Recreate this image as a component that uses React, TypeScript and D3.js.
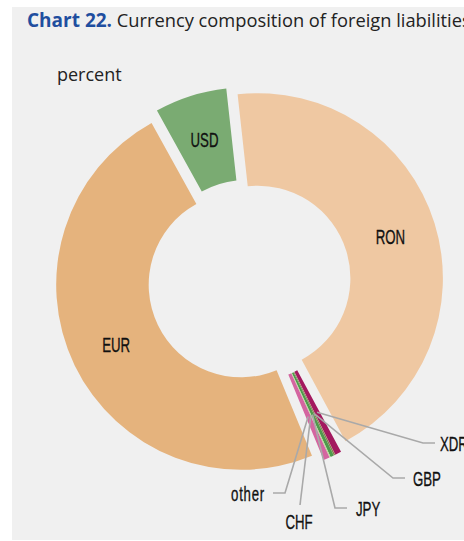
import React from "react";
import * as d3 from "d3";

// ---- data ----
const categories = ["RON", "XDR", "GBP", "JPY", "CHF", "other", "EUR", "USD"];
const shares = [43.9, 0.55, 0.12, 0.3, 0.08, 0.55, 48.2, 6.3];
const sliceColors = ["#efc8a2", "#a3195f", "#8a7b4c", "#4e9a4b", "#b6d98f", "#d465a0", "#e5b37d", "#7aab72"];
const bigLabels = ["RON", "EUR", "USD"];
const titleBold = "Chart 22.";
const titleRest = " Currency composition of foreign liabilities";
const unitLabel = "percent";

// ---- layout for leader-line labels (positions only) ----
const leaderLayout: Record<string, { elbow: [number, number] | null; end: [number, number]; tx: number; ty: number; anchor: string }> = {
  XDR: { elbow: [423, 443], end: [435, 443], tx: 440, ty: 444, anchor: "start" },
  GBP: { elbow: [393, 478], end: [405, 478], tx: 413, ty: 479, anchor: "start" },
  JPY: { elbow: [335, 508], end: [347, 508], tx: 356, ty: 509, anchor: "start" },
  CHF: { elbow: null, end: [300, 505], tx: 299, ty: 522, anchor: "middle" },
  other: { elbow: [285, 493], end: [273, 493], tx: 265, ty: 494, anchor: "end" },
};

const W = 464;
const H = 541;
const cx = 249.3;
const cy = 280.9;
const R = 185;
const r = 92.5;
const explode = 9;
const startDeg = -6.3;

const labelFont = "'Liberation Sans', Arial, sans-serif";
const labelSize = 21;
const labelSqueeze = 0.63;
const textFont = "'Open Sans', 'Noto Sans', sans-serif";

function Label({ x, y, anchor, text }: { x: number; y: number; anchor: string; text: string }) {
  return (
    <text
      transform={`translate(${x},${y}) scale(${labelSqueeze},1)`}
      textAnchor={anchor as any}
      dominantBaseline="central"
      fontFamily={labelFont}
      fontSize={labelSize}
      fill="#111"
      stroke="#111"
      strokeWidth={0.35}
      letterSpacing={text === text.toLowerCase() ? 1.2 : 0}
    >
      {text}
    </text>
  );
}

export default function App() {
  const data = categories.map((c, i) => ({ cat: c, value: shares[i], color: sliceColors[i] }));
  const start = (startDeg * Math.PI) / 180;
  const pie = d3
    .pie<any>()
    .sort(null)
    .value((d: any) => d.value)
    .startAngle(start)
    .endAngle(start + 2 * Math.PI);
  const arcs = pie(data);
  const arcGen = d3.arc<any>().innerRadius(r).outerRadius(R);
  const midR = (r + R) / 2;

  const offset = (a: any) => {
    const m = (a.startAngle + a.endAngle) / 2;
    return [explode * Math.sin(m), -explode * Math.cos(m)];
  };

  return (
    <svg width={W} height={H} style={{ position: "absolute", left: 0, top: 0 }}>
      <rect x={12} y={7} width={W - 12} height={533} fill="#f0f0f0" />
      <text x={27} y={27} fontFamily={textFont} fill="#222">
        <tspan fontWeight="bold" fill="#1f4e9f" fontSize={19}>{titleBold}</tspan>
        <tspan fontSize={18.3}>{titleRest}</tspan>
      </text>
      <text x={57} y={81} fontFamily={textFont} fontSize={18} fill="#222">
        {unitLabel}
      </text>
      <g transform={`translate(${cx},${cy})`}>
        {arcs.map((a: any) => {
          const [ox, oy] = offset(a);
          return (
            <path key={a.data.cat} d={arcGen(a) as string} fill={a.data.color} transform={`translate(${ox},${oy})`} />
          );
        })}
        {arcs
          .filter((a: any) => bigLabels.includes(a.data.cat))
          .map((a: any) => {
            const [ox, oy] = offset(a);
            const m = (a.startAngle + a.endAngle) / 2;
            return (
              <Label
                key={a.data.cat}
                x={ox + midR * Math.sin(m)}
                y={oy - midR * Math.cos(m)}
                anchor="middle"
                text={a.data.cat}
              />
            );
          })}
      </g>
      {arcs
        .filter((a: any) => leaderLayout[a.data.cat])
        .map((a: any) => {
          const L = leaderLayout[a.data.cat];
          const [ox, oy] = offset(a);
          const m = (a.startAngle + a.endAngle) / 2;
          const sx = cx + ox + midR * Math.sin(m);
          const sy = cy + oy - midR * Math.cos(m);
          const pts: [number, number][] = [[sx, sy]];
          if (L.elbow) pts.push(L.elbow);
          pts.push(L.end);
          return (
            <g key={a.data.cat}>
              <path d={d3.line()(pts) as string} fill="none" stroke="#a9a9a9" strokeWidth={1.6} />
              <Label x={L.tx} y={L.ty} anchor={L.anchor} text={a.data.cat} />
            </g>
          );
        })}
    </svg>
  );
}
